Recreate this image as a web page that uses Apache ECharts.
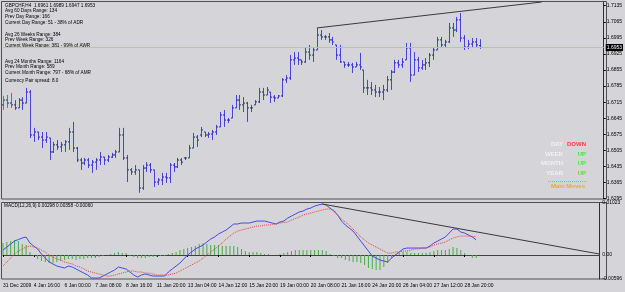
<!DOCTYPE html>
<html><head><meta charset="utf-8">
<script src="https://cdn.jsdelivr.net/npm/echarts@6/dist/echarts.min.js"></script>
<style>html,body{margin:0;padding:0;background:#d5d4d8;}#c{width:625px;height:292px;}</style>
</head><body><div id="c"></div>
<script>
// ---- data ----
const dateTickLabels = ['31 Dec 2009','4 Jan 16:00','6 Jan 00:00','7 Jan 08:00','8 Jan 16:00','11 Jan 20:00','13 Jan 04:00','14 Jan 12:00','15 Jan 20:00','19 Jan 00:00','20 Jan 08:00','21 Jan 16:00','24 Jan 20:00','26 Jan 04:00','27 Jan 12:00','28 Jan 20:00'];
const opens = [1.6703,1.6724,1.6711,1.6703,1.6690,1.6724,1.6711,1.6759,1.6572,1.6585,
 1.6563,1.6550,1.6559,1.6498,1.6529,1.6520,1.6529,1.6542,1.6585,1.6515,
 1.6463,1.6450,1.6463,1.6441,1.6454,1.6463,1.6476,1.6463,1.6476,1.6485,
 1.6498,1.6572,1.6472,1.6420,1.6411,1.6420,1.6341,1.6428,1.6441,1.6420,
 1.6367,1.6376,1.6389,1.6385,1.6441,1.6433,1.6463,1.6472,1.6472,1.6515,
 1.6563,1.6572,1.6585,1.6572,1.6576,1.6585,1.6607,1.6659,1.6637,1.6646,
 1.6690,1.6724,1.6703,1.6711,1.6690,1.6703,1.6716,1.6759,1.6746,1.6759,
 1.6737,1.6733,1.6742,1.6812,1.6820,1.6899,1.6907,1.6899,1.6890,1.6933,
 1.6920,1.6942,1.7007,1.6999,1.6999,1.6986,1.6964,1.6920,1.6890,1.6877,
 1.6877,1.6868,1.6877,1.6855,1.6777,1.6777,1.6768,1.6759,1.6759,1.6768,
 1.6812,1.6846,1.6886,1.6877,1.6899,1.6951,1.6833,1.6899,1.6864,1.6877,
 1.6886,1.6920,1.6942,1.6986,1.6964,1.6977,1.7038,1.7029,1.7073,1.6994,
 1.6955,1.6968,1.6977,1.6961];
const highs = [1.6742,1.6746,1.6755,1.6724,1.6733,1.6737,1.6777,1.6768,1.6603,1.6585,
 1.6585,1.6585,1.6559,1.6542,1.6550,1.6542,1.6550,1.6603,1.6629,1.6520,
 1.6472,1.6472,1.6472,1.6463,1.6472,1.6498,1.6476,1.6485,1.6494,1.6507,
 1.6603,1.6603,1.6485,1.6428,1.6441,1.6420,1.6441,1.6454,1.6450,1.6420,
 1.6385,1.6407,1.6407,1.6450,1.6450,1.6472,1.6472,1.6476,1.6529,1.6581,
 1.6572,1.6607,1.6585,1.6585,1.6594,1.6616,1.6672,1.6681,1.6646,1.6703,
 1.6746,1.6746,1.6737,1.6716,1.6703,1.6724,1.6777,1.6777,1.6781,1.6759,
 1.6746,1.6746,1.6820,1.6833,1.6920,1.6933,1.6933,1.6899,1.6951,1.6964,
 1.6955,1.7038,1.7029,1.7007,1.7016,1.6999,1.6964,1.6964,1.6890,1.6890,
 1.6886,1.6890,1.6929,1.6855,1.6812,1.6803,1.6790,1.6781,1.6790,1.6829,
 1.6855,1.6899,1.6899,1.6907,1.6973,1.6973,1.6933,1.6912,1.6899,1.6907,
 1.6929,1.6951,1.6999,1.6999,1.6986,1.7060,1.7060,1.7086,1.7103,1.7007,
 1.6986,1.6994,1.6994,1.6989];
const lows = [1.6681,1.6690,1.6690,1.6681,1.6690,1.6681,1.6711,1.6559,1.6542,1.6550,
 1.6515,1.6537,1.6463,1.6494,1.6507,1.6498,1.6498,1.6507,1.6498,1.6454,
 1.6420,1.6441,1.6428,1.6407,1.6420,1.6441,1.6441,1.6454,1.6472,1.6472,
 1.6498,1.6463,1.6367,1.6398,1.6398,1.6320,1.6333,1.6411,1.6407,1.6346,
 1.6354,1.6354,1.6363,1.6363,1.6411,1.6428,1.6441,1.6463,1.6472,1.6515,
 1.6520,1.6563,1.6563,1.6559,1.6550,1.6572,1.6607,1.6607,1.6624,1.6646,
 1.6690,1.6681,1.6672,1.6629,1.6672,1.6703,1.6711,1.6724,1.6746,1.6711,
 1.6716,1.6733,1.6737,1.6798,1.6812,1.6877,1.6877,1.6877,1.6886,1.6899,
 1.6890,1.6942,1.6986,1.6986,1.6973,1.6964,1.6899,1.6886,1.6864,1.6868,
 1.6842,1.6868,1.6855,1.6755,1.6746,1.6746,1.6737,1.6737,1.6724,1.6759,
 1.6768,1.6842,1.6864,1.6864,1.6899,1.6803,1.6833,1.6846,1.6855,1.6855,
 1.6868,1.6899,1.6942,1.6951,1.6955,1.6973,1.6999,1.7020,1.6977,1.6942,
 1.6946,1.6955,1.6955,1.6947];
const closes = [1.6724,1.6711,1.6703,1.6690,1.6724,1.6711,1.6759,1.6572,1.6585,1.6563,
 1.6550,1.6563,1.6498,1.6529,1.6520,1.6529,1.6542,1.6585,1.6515,1.6463,
 1.6450,1.6463,1.6441,1.6454,1.6463,1.6476,1.6463,1.6476,1.6485,1.6498,
 1.6572,1.6472,1.6420,1.6411,1.6420,1.6341,1.6428,1.6441,1.6420,1.6367,
 1.6376,1.6389,1.6385,1.6441,1.6433,1.6463,1.6454,1.6472,1.6515,1.6563,
 1.6550,1.6594,1.6572,1.6576,1.6585,1.6607,1.6659,1.6637,1.6637,1.6690,
 1.6724,1.6703,1.6711,1.6690,1.6690,1.6716,1.6759,1.6746,1.6768,1.6737,
 1.6733,1.6742,1.6812,1.6820,1.6899,1.6907,1.6899,1.6890,1.6933,1.6920,
 1.6942,1.7007,1.6999,1.6999,1.6986,1.6977,1.6920,1.6890,1.6877,1.6877,
 1.6868,1.6877,1.6868,1.6777,1.6777,1.6768,1.6759,1.6759,1.6768,1.6812,
 1.6846,1.6886,1.6877,1.6890,1.6951,1.6833,1.6899,1.6864,1.6877,1.6886,
 1.6920,1.6942,1.6986,1.6964,1.6977,1.7038,1.7029,1.7073,1.6994,1.6955,
 1.6968,1.6977,1.6964,1.6953];
const macdMain = [0.00098,0.00157,0.00216,0.00274,0.00304,0.00333,0.00353,0.00235,0.00176,0.00118,
 0.0002,-0.00059,-0.00137,-0.00176,-0.00216,-0.00235,-0.00255,-0.00216,-0.00235,-0.00274,
 -0.00314,-0.00353,-0.00392,-0.00451,-0.00451,-0.00451,-0.00412,-0.00372,-0.00333,-0.00294,
 -0.00235,-0.00255,-0.00274,-0.00333,-0.00392,-0.00431,-0.00392,-0.00372,-0.00392,-0.00412,
 -0.00412,-0.00412,-0.00412,-0.00333,-0.00274,-0.00216,-0.00157,-0.00078,0,0.00059,
 0.00118,0.00157,0.00196,0.00255,0.00314,0.00353,0.00412,0.00451,0.0049,0.00549,
 0.00608,0.00608,0.00627,0.00627,0.00627,0.00647,0.00666,0.00666,0.00666,0.00647,
 0.00627,0.00608,0.00647,0.00666,0.00725,0.00764,0.00804,0.00843,0.00862,0.00902,
 0.00921,0.0096,0.0098,0.01,0.0098,0.00921,0.00862,0.00784,0.00666,0.00588,
 0.00529,0.0047,0.00372,0.00274,0.00176,0.00078,-0.0002,-0.00059,-0.00098,-0.00118,
 -0.00137,-0.00059,0,0.00059,0.00118,0.00137,0.00137,0.00137,0.00137,0.00137,
 0.00137,0.00176,0.00235,0.00274,0.00314,0.00353,0.00431,0.0051,0.0051,0.00451,
 0.00431,0.00392,0.00353,0.00298];
const macdSignal = [-0.00216,-0.00137,-0.00059,0.0002,0.00078,0.00118,0.00157,0.00176,0.00157,0.00137,
 0.00098,0.00059,0,-0.00039,-0.00078,-0.00098,-0.00137,-0.00157,-0.00176,-0.00216,
 -0.00235,-0.00274,-0.00314,-0.00333,-0.00353,-0.00372,-0.00392,-0.00412,-0.00412,-0.00392,
 -0.00372,-0.00353,-0.00333,-0.00314,-0.00314,-0.00333,-0.00333,-0.00353,-0.00353,-0.00372,
 -0.00392,-0.00392,-0.00392,-0.00392,-0.00372,-0.00353,-0.00314,-0.00274,-0.00235,-0.00196,
 -0.00157,-0.00118,-0.00059,0,0.00059,0.00118,0.00176,0.00235,0.00314,0.00372,
 0.00431,0.0047,0.0049,0.0051,0.00529,0.00549,0.00568,0.00568,0.00588,0.00588,
 0.00598,0.00608,0.00627,0.00637,0.00647,0.00686,0.00715,0.00745,0.00784,0.00804,
 0.00823,0.00843,0.00862,0.00882,0.00902,0.00902,0.00882,0.00784,0.00706,0.00647,
 0.00588,0.0051,0.00431,0.00353,0.00294,0.00235,0.00196,0.00157,0.00118,0.00078,
 0.00039,0.00039,0.00059,0.00059,0.00078,0.00078,0.00098,0.00118,0.00118,0.00137,
 0.00137,0.00157,0.00196,0.00216,0.00235,0.00255,0.00294,0.00333,0.00353,0.00372,
 0.00372,0.00372,0.00363,0.00358];
const macdHist = [0.00235,0.00255,0.00274,0.00294,0.00274,0.00216,0.00196,0.00059,-0.0002,-0.00078,
 -0.00118,-0.00137,-0.00157,-0.00157,-0.00137,-0.00118,-0.00098,-0.00078,-0.00078,-0.00098,
 -0.00078,-0.00078,-0.00059,-0.00059,-0.00059,-0.00039,-0.0002,0,0.0002,0.00039,
 0.00059,0.00039,0.00039,-0.0002,-0.00039,-0.00059,-0.00059,-0.00059,-0.00039,-0.00039,
 -0.00039,-0.0002,-0.0002,0.0002,0.00039,0.00059,0.00098,0.00118,0.00137,0.00157,
 0.00176,0.00216,0.00235,0.00216,0.00196,0.00196,0.00196,0.00176,0.00176,0.00176,
 0.00176,0.00157,0.00118,0.00078,0.00059,0.00059,0.00059,0.00039,0.0002,0.0002,
 0,0,0.0002,0.00039,0.00059,0.00078,0.00098,0.00098,0.00098,0.00098,
 0.00098,0.00098,0.00098,0.00098,0.00078,0.0002,-0.0002,-0.00059,-0.00059,-0.00098,
 -0.00118,-0.00137,-0.00137,-0.00157,-0.00196,-0.00255,-0.00274,-0.00294,-0.00294,-0.00235,
 -0.00157,-0.00059,0.0002,0.00039,0.00059,0.00059,0.00039,0.00039,0.00039,0.00039,
 0.00039,0.00059,0.00078,0.00098,0.00098,0.00098,0.00118,0.00157,0.00137,0.00098,
 0.00039,0,-0.00059,-0.0006];
const greenBars = [0, 1, 2];
const priceTrend = [[81, 1.7038], [139, 1.7151]];
const macdTrend = [[83, 0.0100], [155, 0.0002]];
const bidPrice = 1.6953;
const macdAxisLabels = ['0.01023', '0.00', '-0.00596'];
const infoLines = [
  'GBPCHF,H4  1.6961 1.6989 1.6947 1.6953',
  'Avg 60 Days Range: 134', 'Prev Day Range: 166', 'Current Day Range: 51 - 38% of ADR',
  'Avg 26 Weeks Range: 384', 'Prev Week Range: 326', 'Current Week Range: 381 - 99% of AWR',
  'Avg 24 Months Range: 1164', 'Prev Month Range: 589', 'Current Month Range: 797 - 68% of AMR',
  'Currency Pair spread: 8.0'];
const trendNames = ['DAY', 'WEEK', 'MONTH', 'YEAR'];
const trendStates = ['DOWN', 'UP', 'UP', 'UP'];

// ---- chart ----
const FONT = 'Liberation Sans';
const base = 1.6295;
const N = 156;
const cats = Array.from({length: N}, (_, i) => String(i));
const ohlc = opens.map((o, i) => [i, o - base, highs[i] - base, lows[i] - base, closes[i] - base, greenBars.indexOf(i) >= 0 ? 1 : 0]);

function renderOHLC(params, api) {
  const i = api.value(0);
  const o = api.coord([i, api.value(1)]);
  const h = api.coord([i, api.value(2)]);
  const l = api.coord([i, api.value(3)]);
  const c = api.coord([i, api.value(4)]);
  const col = api.value(5) ? '#3c9c3c' : '#4646dc';
  const x = Math.round(o[0]) + 0.5;
  const st = {stroke: col, lineWidth: 1};
  return {type: 'group', children: [
    {type: 'line', shape: {x1: x, y1: h[1], x2: x, y2: l[1]}, style: st},
    {type: 'line', shape: {x1: x - 1.5, y1: o[1], x2: x, y2: o[1]}, style: {stroke: '#26267a', lineWidth: 1}},
    {type: 'line', shape: {x1: x, y1: c[1], x2: x + 1.5, y2: c[1]}, style: {stroke: '#26267a', lineWidth: 1}}
  ]};
}

const infoY = [5.7, 11, 16.7, 22.7, 34.3, 40, 45.7, 61.7, 66.7, 72.7, 81];
const graphics = [];
infoLines.forEach((t, k) => graphics.push({type: 'text', x: 5, y: infoY[k], silent: true,
  style: {text: t, font: '4.7px ' + FONT, fill: '#000', textVerticalAlign: 'middle'}}));
graphics.push({type: 'text', x: 4, y: 205.5, silent: true,
  style: {text: 'MACD(12,26,9) 0.00298 0.00358 -0.00060', font: '4.7px ' + FONT, fill: '#000', textVerticalAlign: 'middle'}});
const rowY = [144, 154, 163, 173];
trendNames.forEach((t, k) => {
  graphics.push({type: 'text', x: 563, y: rowY[k], silent: true,
    style: {text: t, font: 'bold 6px ' + FONT, fill: '#f2f2f2', textAlign: 'right', textVerticalAlign: 'middle'}});
  graphics.push({type: 'text', x: 586, y: rowY[k], silent: true,
    style: {text: trendStates[k], font: 'bold 6px ' + FONT, fill: trendStates[k] === 'DOWN' ? '#ff3c3c' : '#3cf03c', textAlign: 'right', textVerticalAlign: 'middle'}});
});
graphics.push({type: 'line', silent: true, shape: {x1: 548, y1: 181.5, x2: 587, y2: 181.5}, style: {stroke: '#e8a040', lineWidth: 1, lineDash: [1, 1]}});
graphics.push({type: 'text', x: 568, y: 186.5, silent: true,
  style: {text: 'Main Moves', font: 'bold 6px ' + FONT, fill: '#f0a43c', textAlign: 'center', textVerticalAlign: 'middle'}});
graphics.push({type: 'rect', silent: true, shape: {x: 1.5, y: 1.5, width: 605, height: 197.5}, style: {fill: 'none', stroke: '#505050', lineWidth: 1}});
graphics.push({type: 'rect', silent: true, shape: {x: 1.5, y: 202.5, width: 605, height: 76.5}, style: {fill: 'none', stroke: '#505050', lineWidth: 1}});

const macdMin = -0.0047, macdMax = 0.0102;
function near(a, b) { return Math.abs(a - b) < 1e-7; }

const chart = echarts.init(document.getElementById('c'));
chart.setOption({
  backgroundColor: '#d5d4d8',
  animation: false,
  textStyle: {fontFamily: FONT},
  grid: [
    {left: 3, right: 19, top: 2, height: 196.6},
    {left: 3, right: 19, top: 203, height: 76}
  ],
  xAxis: [
    {type: 'category', gridIndex: 0, data: cats, boundaryGap: false, show: false},
    {type: 'category', gridIndex: 1, data: cats, boundaryGap: false,
      axisLine: {show: true, lineStyle: {color: '#404040'}},
      axisTick: {show: true, length: 2, lineStyle: {color: '#000'}, interval: (i) => i % 8 === 0 && i / 8 < dateTickLabels.length},
      axisLabel: {show: true, fontSize: 5, color: '#000', align: 'left', margin: 4, fontFamily: FONT,
        interval: (i) => i % 8 === 0 && i / 8 < dateTickLabels.length,
        formatter: (v, i) => (i % 8 === 0 && i / 8 < dateTickLabels.length) ? dateTickLabels[i / 8] : ''},
      splitLine: {show: false}}
  ],
  yAxis: [
    {type: 'value', gridIndex: 0, position: 'right', min: 0, max: 0.0856, interval: 0.007,
      axisLine: {show: true, lineStyle: {color: '#303030'}},
      axisTick: {show: true, length: 2, lineStyle: {color: '#000'}},
      axisLabel: {show: true, fontSize: 5, color: '#000', margin: 3, fontFamily: FONT, showMaxLabel: false,
        formatter: (v) => (base + v).toFixed(4)},
      splitLine: {show: false}},
    {type: 'value', gridIndex: 1, position: 'right', min: macdMin, max: macdMax, interval: 0.0047,
      axisLine: {show: true, lineStyle: {color: '#303030'}},
      axisTick: {show: false},
      axisLabel: {show: true, fontSize: 5, color: '#000', margin: 3, fontFamily: FONT, showMinLabel: true, showMaxLabel: true,
        formatter: (v) => near(v, macdMax) ? macdAxisLabels[0] : near(v, 0) ? macdAxisLabels[1] : near(v, macdMin) ? macdAxisLabels[2] : ''},
      splitLine: {show: false}}
  ],
  series: [
    {type: 'line', xAxisIndex: 0, yAxisIndex: 0, data: [[0, bidPrice - base], [N - 1, bidPrice - base]],
      symbol: 'none', silent: true, lineStyle: {color: '#b2c6b0', width: 1},
      endLabel: {show: true, distance: 2, formatter: bidPrice.toFixed(4), fontSize: 5, fontFamily: FONT,
        color: '#fff', backgroundColor: '#000', padding: [1, 1, 1, 1]}},
    {type: 'line', xAxisIndex: 0, yAxisIndex: 0, data: priceTrend.map(d => [d[0], d[1] - base]),
      symbol: 'none', silent: true, lineStyle: {color: '#3a3a3a', width: 1}},
    {type: 'custom', xAxisIndex: 0, yAxisIndex: 0, renderItem: renderOHLC, data: ohlc, silent: true},
    {type: 'bar', xAxisIndex: 1, yAxisIndex: 1, data: macdHist, barWidth: 1, silent: true,
      itemStyle: {color: '#44ae44'}},
    {type: 'line', xAxisIndex: 1, yAxisIndex: 1, data: macdMain, symbol: 'none', silent: true,
      lineStyle: {color: '#4848e4', width: 1}},
    {type: 'line', xAxisIndex: 1, yAxisIndex: 1, data: macdSignal, symbol: 'none', silent: true,
      lineStyle: {color: '#e84040', width: 1, type: [1, 1]}},
    {type: 'line', xAxisIndex: 1, yAxisIndex: 1, data: macdTrend, symbol: 'none', silent: true,
      lineStyle: {color: '#3a3a3a', width: 1}}
  ],
  graphic: graphics
});
</script></body></html>
